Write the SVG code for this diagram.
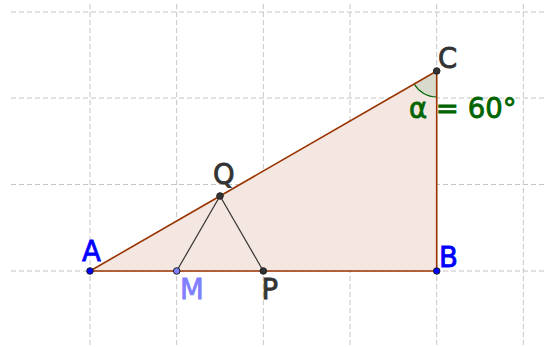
<svg xmlns="http://www.w3.org/2000/svg" width="547" height="347" viewBox="0 0 547 347">
<style>
.grid{stroke:#c4c4c4;stroke-width:1;stroke-dasharray:5 3;fill:none}
.side{stroke:#993300;stroke-width:1.6;fill:none}
.seg{stroke:#333333;stroke-width:1.2;fill:none}
.lbl{font-family:"DejaVu Sans",sans-serif;font-size:27.5px;stroke-width:0.8}
.dark{fill:#333333;stroke:#333333}
.blue{fill:#0000ff;stroke:#0000ff}
.violet{fill:#7f7fff;stroke:#7f7fff}
.green{fill:#006400;stroke:#006400}
.pt{stroke:#222222;stroke-width:1}
</style>
<rect width="547" height="347" fill="#ffffff"/>
<g id="grid">
<line class="grid" x1="90" y1="4" x2="90" y2="345"/>
<line class="grid" x1="176.7" y1="4" x2="176.7" y2="345"/>
<line class="grid" x1="263.3" y1="4" x2="263.3" y2="345"/>
<line class="grid" x1="350" y1="4" x2="350" y2="345"/>
<line class="grid" x1="436.7" y1="4" x2="436.7" y2="345"/>
<line class="grid" x1="523.3" y1="4" x2="523.3" y2="345"/>
<line class="grid" x1="11" y1="12" x2="547" y2="12"/>
<line class="grid" x1="11" y1="98" x2="547" y2="98"/>
<line class="grid" x1="11" y1="184.5" x2="547" y2="184.5"/>
<line class="grid" x1="11" y1="271" x2="547" y2="271"/>
</g>
<g id="triangle">
<polygon points="90,271 436.7,271 436.7,71" fill="#f4e6e1" stroke="none"/>
</g>
<g id="angle">
<path d="M436.7,71 L414.2,84 A26,26 0 0 0 436.7,97 Z" fill="#d8dacb" stroke="none"/>
<path d="M414.2,84 A26,26 0 0 0 436.7,97" fill="none" stroke="#006400" stroke-width="1.2"/>
<text class="lbl green" x="409" y="117.5">α = 60°</text>
</g>
<g id="connectors">
<line class="side" x1="90" y1="271" x2="436.7" y2="271" stroke-width="2"/>
<line class="side" x1="436.7" y1="271" x2="436.7" y2="71" stroke-width="2"/>
<line class="side" x1="436.7" y1="71" x2="90" y2="271"/>
<line class="seg" x1="176.7" y1="271" x2="220" y2="196"/>
<line class="seg" x1="220" y1="196" x2="263.3" y2="271"/>
</g>
<g id="A">
<circle class="pt" cx="90" cy="271" r="3.3" fill="#0000ff"/>
<text class="lbl blue" x="82" y="261">A</text>
</g>
<g id="B">
<circle class="pt" cx="436.7" cy="271" r="3.3" fill="#0000ff"/>
<text class="lbl blue" x="439" y="266.5">B</text>
</g>
<g id="C">
<circle class="pt" cx="436.7" cy="71" r="3.3" fill="#333333"/>
<text class="lbl dark" x="438" y="67.5">C</text>
</g>
<g id="Q">
<circle class="pt" cx="220" cy="196" r="3.3" fill="#333333"/>
<text class="lbl dark" x="213" y="183.5">Q</text>
</g>
<g id="M">
<circle class="pt" cx="176.7" cy="271" r="3.3" fill="#7f7fff"/>
<text class="lbl violet" x="180" y="298.5">M</text>
</g>
<g id="P">
<circle class="pt" cx="263.3" cy="271" r="3.3" fill="#333333"/>
<text class="lbl dark" x="261.5" y="299">P</text>
</g>
</svg>
